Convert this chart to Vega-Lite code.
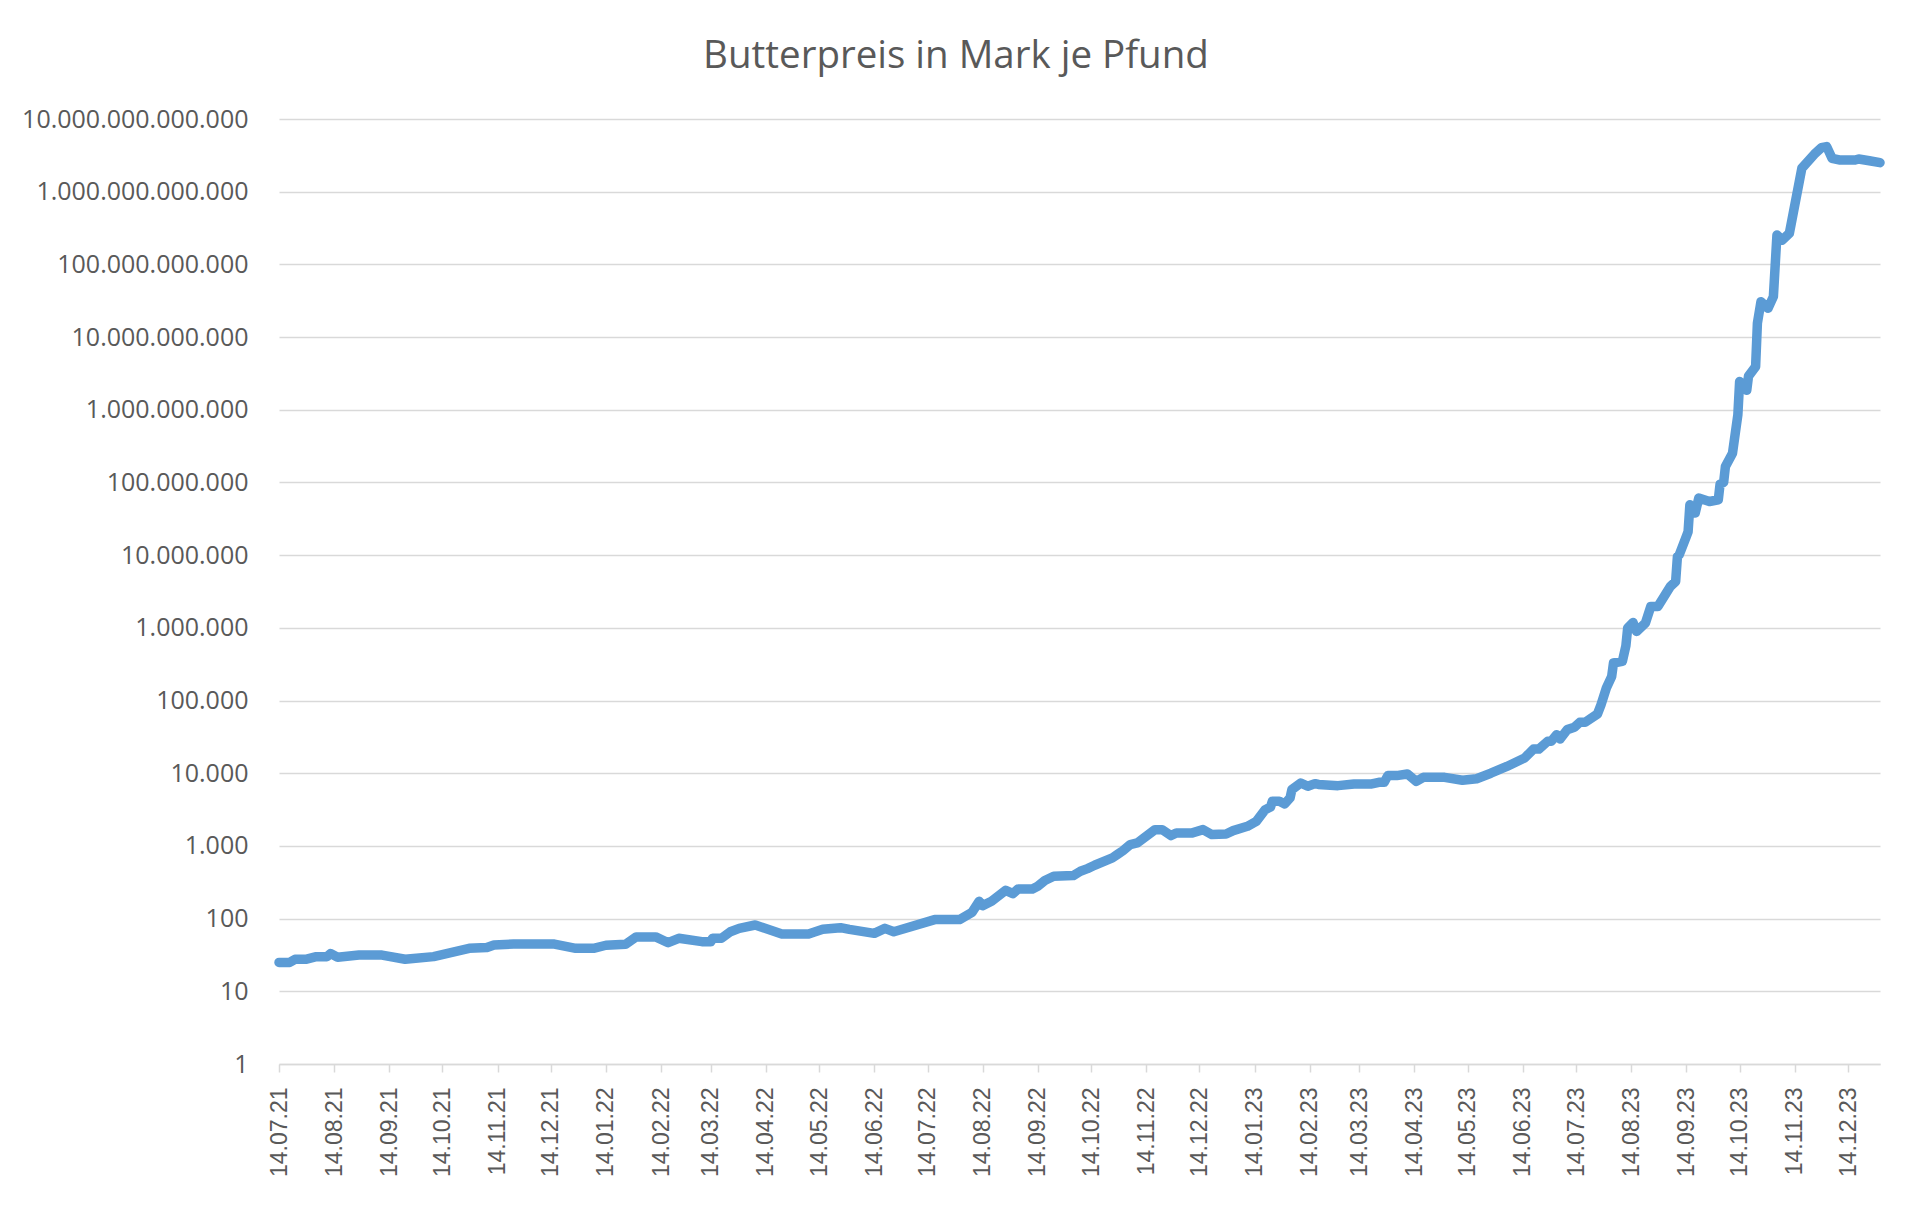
{
  "$schema": "https://vega.github.io/schema/vega-lite/v6.json",
  "width": 1601,
  "height": 945,
  "autosize": {"type": "none"},
  "padding": {"left": 279, "top": 119, "right": 40, "bottom": 147},
  "background": "white",
  "config": {
    "locale": {"number": {"decimal": ",", "thousands": ".", "grouping": [3], "currency": ["", " €"]}},
    "view": {"stroke": null}
  },
  "title": {
    "text": "Butterpreis in Mark je Pfund",
    "font": "Open Sans",
    "fontSize": 38.5,
    "fontWeight": "normal",
    "color": "#595959",
    "anchor": "middle",
    "frame": "group",
    "dx": -123.5,
    "offset": 0.5,
    "baseline": "alphabetic",
    "limit": 0
  },
  "data": {
    "values": [
      {"date": "1921-07-14", "preis": 25},
      {"date": "1921-07-20", "preis": 25},
      {"date": "1921-07-23", "preis": 27.5},
      {"date": "1921-07-29", "preis": 27.5},
      {"date": "1921-08-04", "preis": 30},
      {"date": "1921-08-10", "preis": 30},
      {"date": "1921-08-12", "preis": 33},
      {"date": "1921-08-16", "preis": 29.5},
      {"date": "1921-08-28", "preis": 31.5},
      {"date": "1921-09-10", "preis": 31.5},
      {"date": "1921-09-23", "preis": 27.6},
      {"date": "1921-10-09", "preis": 30},
      {"date": "1921-10-29", "preis": 39},
      {"date": "1921-11-08", "preis": 40},
      {"date": "1921-11-12", "preis": 43.4},
      {"date": "1921-11-23", "preis": 44.7},
      {"date": "1921-12-16", "preis": 44.7},
      {"date": "1921-12-28", "preis": 39},
      {"date": "1922-01-07", "preis": 39},
      {"date": "1922-01-14", "preis": 43},
      {"date": "1922-01-25", "preis": 44.3},
      {"date": "1922-01-31", "preis": 56},
      {"date": "1922-02-11", "preis": 56},
      {"date": "1922-02-18", "preis": 46.6},
      {"date": "1922-02-24", "preis": 53.6},
      {"date": "1922-03-09", "preis": 48.2},
      {"date": "1922-03-14", "preis": 48.2},
      {"date": "1922-03-15", "preis": 53.6},
      {"date": "1922-03-20", "preis": 53.6},
      {"date": "1922-03-25", "preis": 66},
      {"date": "1922-03-30", "preis": 73.5},
      {"date": "1922-04-08", "preis": 81.7},
      {"date": "1922-04-23", "preis": 61.4},
      {"date": "1922-05-08", "preis": 61.4},
      {"date": "1922-05-16", "preis": 71.3},
      {"date": "1922-05-26", "preis": 75},
      {"date": "1922-05-31", "preis": 71},
      {"date": "1922-06-14", "preis": 62.7},
      {"date": "1922-06-20", "preis": 73.5},
      {"date": "1922-06-25", "preis": 66},
      {"date": "1922-07-18", "preis": 97},
      {"date": "1922-08-01", "preis": 97},
      {"date": "1922-08-08", "preis": 122},
      {"date": "1922-08-12", "preis": 173},
      {"date": "1922-08-14", "preis": 151},
      {"date": "1922-08-19", "preis": 173},
      {"date": "1922-08-27", "preis": 245},
      {"date": "1922-08-31", "preis": 221},
      {"date": "1922-09-03", "preis": 256},
      {"date": "1922-09-11", "preis": 256},
      {"date": "1922-09-14", "preis": 279},
      {"date": "1922-09-18", "preis": 334},
      {"date": "1922-09-23", "preis": 382},
      {"date": "1922-10-04", "preis": 391},
      {"date": "1922-10-08", "preis": 448},
      {"date": "1922-10-12", "preis": 488},
      {"date": "1922-10-16", "preis": 542},
      {"date": "1922-10-26", "preis": 684},
      {"date": "1922-10-29", "preis": 767},
      {"date": "1922-11-01", "preis": 861},
      {"date": "1922-11-05", "preis": 1042},
      {"date": "1922-11-09", "preis": 1099},
      {"date": "1922-11-19", "preis": 1675},
      {"date": "1922-11-23", "preis": 1675},
      {"date": "1922-11-28", "preis": 1387},
      {"date": "1922-12-01", "preis": 1510},
      {"date": "1922-12-10", "preis": 1510},
      {"date": "1922-12-16", "preis": 1675},
      {"date": "1922-12-21", "preis": 1432},
      {"date": "1922-12-29", "preis": 1460},
      {"date": "1923-01-02", "preis": 1623},
      {"date": "1923-01-10", "preis": 1862},
      {"date": "1923-01-15", "preis": 2180},
      {"date": "1923-01-20", "preis": 3157},
      {"date": "1923-01-23", "preis": 3435},
      {"date": "1923-01-24", "preis": 4110},
      {"date": "1923-01-28", "preis": 4110},
      {"date": "1923-01-31", "preis": 3785},
      {"date": "1923-02-03", "preis": 4573},
      {"date": "1923-02-04", "preis": 5945},
      {"date": "1923-02-09", "preis": 7348},
      {"date": "1923-02-13", "preis": 6610},
      {"date": "1923-02-17", "preis": 7190},
      {"date": "1923-02-19", "preis": 7000},
      {"date": "1923-03-02", "preis": 6750},
      {"date": "1923-03-11", "preis": 7120},
      {"date": "1923-03-21", "preis": 7120},
      {"date": "1923-03-25", "preis": 7500},
      {"date": "1923-03-28", "preis": 7500},
      {"date": "1923-03-30", "preis": 9270},
      {"date": "1923-04-04", "preis": 9270},
      {"date": "1923-04-10", "preis": 9770},
      {"date": "1923-04-15", "preis": 7730},
      {"date": "1923-04-19", "preis": 8770},
      {"date": "1923-05-01", "preis": 8770},
      {"date": "1923-05-11", "preis": 8000},
      {"date": "1923-05-19", "preis": 8400},
      {"date": "1923-05-27", "preis": 10000},
      {"date": "1923-06-05", "preis": 12400},
      {"date": "1923-06-15", "preis": 16200},
      {"date": "1923-06-20", "preis": 21500},
      {"date": "1923-06-23", "preis": 21500},
      {"date": "1923-06-28", "preis": 27500},
      {"date": "1923-06-30", "preis": 27500},
      {"date": "1923-07-03", "preis": 33900},
      {"date": "1923-07-05", "preis": 29600},
      {"date": "1923-07-09", "preis": 39800},
      {"date": "1923-07-13", "preis": 42800},
      {"date": "1923-07-16", "preis": 50100},
      {"date": "1923-07-19", "preis": 50100},
      {"date": "1923-07-26", "preis": 65300},
      {"date": "1923-07-28", "preis": 87700},
      {"date": "1923-07-31", "preis": 148700},
      {"date": "1923-08-03", "preis": 214800},
      {"date": "1923-08-04", "preis": 328000},
      {"date": "1923-08-09", "preis": 345000},
      {"date": "1923-08-11", "preis": 567000},
      {"date": "1923-08-12", "preis": 994000},
      {"date": "1923-08-15", "preis": 1186000},
      {"date": "1923-08-17", "preis": 893000},
      {"date": "1923-08-22", "preis": 1164000},
      {"date": "1923-08-25", "preis": 1970000},
      {"date": "1923-08-29", "preis": 1970000},
      {"date": "1923-09-05", "preis": 3710000},
      {"date": "1923-09-08", "preis": 4350000},
      {"date": "1923-09-09", "preis": 9600000},
      {"date": "1923-09-10", "preis": 10100000},
      {"date": "1923-09-14", "preis": 18100000},
      {"date": "1923-09-15", "preis": 21000000},
      {"date": "1923-09-16", "preis": 49300000},
      {"date": "1923-09-19", "preis": 37900000},
      {"date": "1923-09-21", "preis": 61000000},
      {"date": "1923-09-27", "preis": 54700000},
      {"date": "1923-10-02", "preis": 57800000},
      {"date": "1923-10-03", "preis": 95000000},
      {"date": "1923-10-05", "preis": 100000000},
      {"date": "1923-10-06", "preis": 166000000},
      {"date": "1923-10-10", "preis": 253000000},
      {"date": "1923-10-13", "preis": 850000000},
      {"date": "1923-10-14", "preis": 2450000000},
      {"date": "1923-10-18", "preis": 1850000000},
      {"date": "1923-10-19", "preis": 2900000000},
      {"date": "1923-10-23", "preis": 3930000000},
      {"date": "1923-10-24", "preis": 15500000000},
      {"date": "1923-10-26", "preis": 30700000000},
      {"date": "1923-10-30", "preis": 24900000000},
      {"date": "1923-11-02", "preis": 36000000000},
      {"date": "1923-11-04", "preis": 254000000000},
      {"date": "1923-11-07", "preis": 217000000000},
      {"date": "1923-11-11", "preis": 268000000000},
      {"date": "1923-11-18", "preis": 2100000000000},
      {"date": "1923-11-25", "preis": 3270000000000},
      {"date": "1923-11-29", "preis": 4030000000000},
      {"date": "1923-12-02", "preis": 4170000000000},
      {"date": "1923-12-05", "preis": 2880000000000},
      {"date": "1923-12-09", "preis": 2730000000000},
      {"date": "1923-12-18", "preis": 2730000000000},
      {"date": "1923-12-20", "preis": 2820000000000},
      {"date": "1923-12-26", "preis": 2670000000000},
      {"date": "1924-01-01", "preis": 2510000000000}
    ]
  },
  "mark": {"type": "line", "color": "#5b9bd5", "strokeWidth": 9.5, "strokeJoin": "round", "strokeCap": "round"},
  "encoding": {
    "x": {
      "field": "date",
      "type": "temporal",
      "scale": {
        "type": "utc",
        "domain": [
          {"year": 1921, "month": 7, "date": 14, "utc": true},
          {"year": 1924, "month": 1, "date": 1, "utc": true}
        ]
      },
      "axis": {
        "title": null,
        "values": [
          {"year": 1921, "month": 7, "date": 14, "utc": true},
          {"year": 1921, "month": 8, "date": 14, "utc": true},
          {"year": 1921, "month": 9, "date": 14, "utc": true},
          {"year": 1921, "month": 10, "date": 14, "utc": true},
          {"year": 1921, "month": 11, "date": 14, "utc": true},
          {"year": 1921, "month": 12, "date": 14, "utc": true},
          {"year": 1922, "month": 1, "date": 14, "utc": true},
          {"year": 1922, "month": 2, "date": 14, "utc": true},
          {"year": 1922, "month": 3, "date": 14, "utc": true},
          {"year": 1922, "month": 4, "date": 14, "utc": true},
          {"year": 1922, "month": 5, "date": 14, "utc": true},
          {"year": 1922, "month": 6, "date": 14, "utc": true},
          {"year": 1922, "month": 7, "date": 14, "utc": true},
          {"year": 1922, "month": 8, "date": 14, "utc": true},
          {"year": 1922, "month": 9, "date": 14, "utc": true},
          {"year": 1922, "month": 10, "date": 14, "utc": true},
          {"year": 1922, "month": 11, "date": 14, "utc": true},
          {"year": 1922, "month": 12, "date": 14, "utc": true},
          {"year": 1923, "month": 1, "date": 14, "utc": true},
          {"year": 1923, "month": 2, "date": 14, "utc": true},
          {"year": 1923, "month": 3, "date": 14, "utc": true},
          {"year": 1923, "month": 4, "date": 14, "utc": true},
          {"year": 1923, "month": 5, "date": 14, "utc": true},
          {"year": 1923, "month": 6, "date": 14, "utc": true},
          {"year": 1923, "month": 7, "date": 14, "utc": true},
          {"year": 1923, "month": 8, "date": 14, "utc": true},
          {"year": 1923, "month": 9, "date": 14, "utc": true},
          {"year": 1923, "month": 10, "date": 14, "utc": true},
          {"year": 1923, "month": 11, "date": 14, "utc": true},
          {"year": 1923, "month": 12, "date": 14, "utc": true}
        ],
        "format": "%d.%m.%y",
        "labelAngle": -90,
        "labelFont": "Liberation Sans",
        "labelFontSize": 23,
        "labelColor": "#595959",
        "labelPadding": 15,
        "labelOverlap": false,
        "labelFlush": false,
        "labelBound": false,
        "labelLimit": 0,
        "tickSize": 8,
        "tickColor": "#d9d9d9",
        "tickWidth": 1.5,
        "domainColor": "#d9d9d9",
        "domainWidth": 1.5,
        "grid": false
      }
    },
    "y": {
      "field": "preis",
      "type": "quantitative",
      "scale": {"type": "log", "domain": [1, 10000000000000], "nice": false},
      "axis": {
        "title": null,
        "values": [1, 10, 100, 1000, 10000, 100000, 1000000, 10000000, 100000000, 1000000000, 10000000000, 100000000000, 1000000000000, 10000000000000],
        "format": ",d",
        "labelFont": "Open Sans",
        "labelFontSize": 25,
        "labelColor": "#595959",
        "labelPadding": 31,
        "labelOverlap": false,
        "labelFlush": false,
        "labelBound": false,
        "labelLimit": 0,
        "ticks": false,
        "tickSize": 0,
        "domain": false,
        "grid": true,
        "gridColor": "#d9d9d9",
        "gridWidth": 1.5
      }
    }
  }
}
